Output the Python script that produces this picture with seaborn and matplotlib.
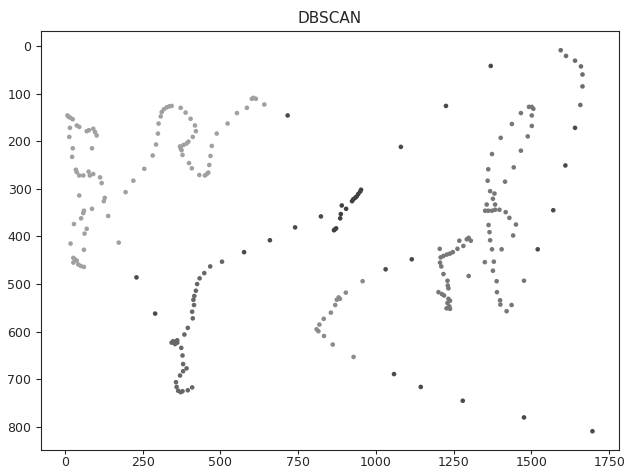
import matplotlib
matplotlib.use("Agg")
import matplotlib.pyplot as plt
import pandas as pd
import seaborn as sns

# cluster points (x, y in image coordinates)
left_x = [8, 12, 18, 25, 16, 38, 46, 14, 70, 77, 91, 97, 102, 25, 87, 23, 35, 38, 46, 59,
          76, 80, 91, 113, 118, 46, 128, 125, 87, 61, 59, 52, 139, 29, 70, 63, 173, 18, 61, 27,
          32, 38, 27, 43, 51, 61,
          195, 220, 255, 282, 293, 299, 301, 308, 311, 318, 327, 335, 343, 372, 388, 404, 418, 421, 411, 397,
          391, 381, 370, 372, 375, 378, 399, 408, 432, 450, 456, 461, 464, 468, 472, 488, 523, 553, 585, 601,
          606, 614, 641]
left_y = [146, 149, 151, 154, 172, 167, 170, 191, 179, 177, 174, 181, 188, 215, 215, 233, 260, 265, 272, 272,
          264, 272, 269, 276, 288, 314, 319, 326, 342, 346, 351, 362, 357, 374, 384, 394, 413, 415, 428, 445,
          448, 451, 455, 459, 462, 464,
          307, 283, 258, 230, 207, 184, 163, 148, 139, 133, 129, 127, 126, 130, 140, 153, 167, 179, 191, 201,
          205, 208, 211, 215, 219, 229, 246, 257, 271, 272, 269, 266, 250, 231, 210, 184, 163, 141, 130, 111,
          109, 111, 123]

arc_x = [505, 467, 448, 433, 425, 421, 416, 413, 415, 409, 411, 395, 384, 361, 348, 343, 354, 361, 374, 378,
         380, 391, 380, 370, 357, 359, 364, 372, 378, 395, 409]
arc_y = [453, 463, 477, 488, 500, 514, 525, 533, 544, 558, 572, 592, 606, 618, 620, 623, 626, 623, 634, 650,
         668, 677, 683, 692, 706, 716, 724, 727, 725, 723, 717]

diag_x = [865, 872, 868, 885, 887, 890, 904, 923, 927, 933, 938, 943, 949, 952]
diag_y = [387, 383, 385, 362, 353, 335, 342, 326, 322, 319, 316, 311, 306, 302]

mid_x = [957, 903, 884, 880, 874, 869, 855, 832, 818, 809, 815, 833, 861, 928]
mid_y = [494, 518, 531, 528, 533, 544, 560, 573, 585, 595, 599, 609, 627, 653]

right_x = [1205, 1208, 1217, 1228, 1238, 1247, 1262, 1268, 1281, 1292, 1298, 1305, 1206, 1210, 1217, 1230,
           1231, 1233, 1201, 1212, 1219, 1233, 1238, 1230, 1236, 1227, 1238, 1298,
           1373, 1466, 1361, 1443, 1359, 1415, 1367, 1381, 1376, 1356, 1383, 1351, 1361, 1373, 1383, 1397,
           1417, 1429, 1450, 1441, 1362, 1365, 1367, 1373, 1404, 1350, 1379, 1376, 1388, 1389, 1399, 1400,
           1420, 1436, 1476,
           1492, 1501, 1506, 1501, 1466, 1501, 1437, 1488, 1401]
right_y = [426, 444, 441, 438, 436, 433, 426, 409, 420, 406, 403, 409, 455, 463, 479, 493, 503, 509, 517, 521,
           524, 531, 535, 540, 547, 551, 552, 483,
           227, 220, 259, 255, 283, 285, 305, 310, 321, 333, 333, 346, 346, 346, 344, 344, 349, 361, 375, 398,
           376, 391, 408, 427, 427, 454, 453, 472, 494, 517, 534, 543, 557, 544, 493,
           128, 128, 132, 146, 141, 168, 164, 190, 193]

top_x = [1594, 1611, 1640, 1659, 1664, 1664, 1657]
top_y = [9, 21, 31, 43, 60, 85, 124]

noise_x = [716, 230, 290, 576, 659, 740, 823, 1031, 1115, 1058, 1144, 1279, 1476, 1696, 1609, 1570, 1520,
           1640, 1369, 1225, 1080]
noise_y = [146, 486, 562, 433, 408, 381, 358, 469, 448, 689, 716, 745, 780, 809, 251, 345, 427, 172, 42,
           126, 212]

clusters = {
    "left": (left_x, left_y),
    "arc": (arc_x, arc_y),
    "diag": (diag_x, diag_y),
    "mid": (mid_x, mid_y),
    "right": (right_x, right_y),
    "top": (top_x, top_y),
    "noise": (noise_x, noise_y),
}
palette = {
    "left": "#a0a0a0",
    "arc": "#676767",
    "diag": "#414141",
    "mid": "#8b8b8b",
    "right": "#777777",
    "top": "#6c6c6c",
    "noise": "#4a4a4a",
}

frames = [pd.DataFrame({"x": xs, "y": ys, "label": name}) for name, (xs, ys) in clusters.items()]
df = pd.concat(frames, ignore_index=True)

sns.set_style("ticks")
fig, ax = plt.subplots(figsize=(6.24, 4.72), dpi=100)
fig.subplots_adjust(left=0.066, right=0.9915, top=0.934, bottom=0.046)

sns.scatterplot(data=df, x="x", y="y", hue="label", palette=palette,
                s=11, linewidth=0, legend=False, ax=ax)
ax.invert_yaxis()
ax.set_xticks([0, 250, 500, 750, 1000, 1250, 1500, 1750])
ax.set_title("DBSCAN", fontsize=11)
ax.set_xlabel("")
ax.set_ylabel("")
ax.tick_params(labelsize=9)
ax.tick_params(axis="x", length=3, pad=1)

fig.savefig("out.png", dpi=100)
